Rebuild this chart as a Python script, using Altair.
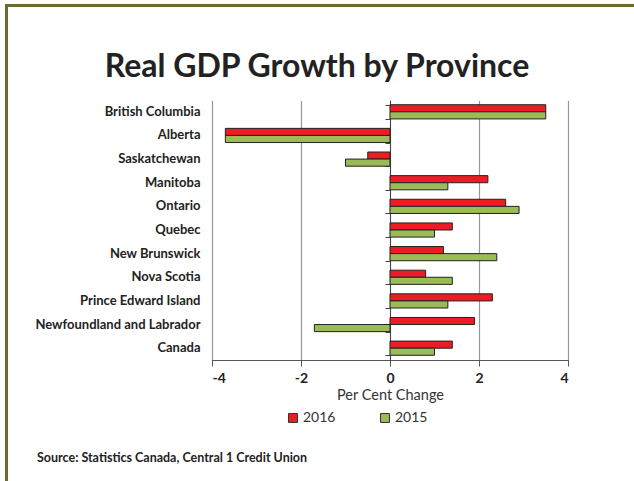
import altair as alt
import pandas as pd

provinces = ["British Columbia", "Alberta", "Saskatchewan", "Manitoba", "Ontario",
             "Quebec", "New Brunswick", "Nova Scotia", "Prince Edward Island",
             "Newfoundland and Labrador", "Canada"]
growth_2016 = [3.5, -3.7, -0.5, 2.2, 2.6, 1.4, 1.2, 0.8, 2.3, 1.9, 1.4]
growth_2015 = [3.5, -3.7, -1.0, 1.3, 2.9, 1.0, 2.4, 1.4, 1.3, -1.7, 1.0]
years = ["2016", "2015"]
x_ticks = [-4, -2, 0, 2, 4]

rows = []
for p, a, b in zip(provinces, growth_2016, growth_2015):
    rows.append({"province": p, "year": "2016", "value": a})
    rows.append({"province": p, "year": "2015", "value": b})
df = pd.DataFrame(rows)

FONT = "Lato"
W, H = 356, 260

yscale = alt.Scale(domain=provinces, paddingInner=0.4, paddingOuter=0.2)
xscale = alt.Scale(domain=[-4, 4], nice=False, zero=False)

bars = alt.Chart(df).mark_bar(stroke="#222222", strokeWidth=1).encode(
    y=alt.Y("province:N", scale=yscale, title=None,
            axis=alt.Axis(orient="left", labelFont=FONT, labelFontWeight="bold", labelFontSize=13,
                          labelColor="#222222", labelPadding=12, ticks=False,
                          domain=False, grid=False, labelLimit=300)),
    yOffset=alt.YOffset("year:N", sort=years, scale=alt.Scale(domain=years, paddingInner=0)),
    x=alt.X("value:Q", scale=xscale, title="Per Cent Change",
            axis=alt.Axis(values=x_ticks, labelExpr="'' + datum.value", labelFont=FONT,
                          labelFontWeight="bold", labelFontSize=14, labelColor="#222222",
                          labelPadding=5, tickSize=6, tickColor="#555555", domainColor="#555555",
                          grid=True, gridDash=[1, 1], gridColor="#333333", gridWidth=1.2,
                          titleFont=FONT, titleFontWeight="normal", titleFontSize=14.5,
                          titleColor="#333333", titlePadding=3)),
    color=alt.Color("year:N", sort=years,
                    scale=alt.Scale(domain=years, range=["#ED1C24", "#9BBB59"]),
                    legend=alt.Legend(title=None, orient="none", direction="horizontal",
                                      legendX=74, legendY=311, symbolType="square",
                                      symbolSize=80, symbolStrokeColor="#333333",
                                      symbolStrokeWidth=1, labelFont=FONT, labelFontSize=14,
                                      labelColor="#333333", columnPadding=42,
                                      labelOffset=3)),
)

zero_axis = alt.Chart(df).mark_bar(opacity=0).encode(
    y=alt.Y("province:N", scale=yscale, title=None,
            axis=alt.Axis(orient="left", offset=-W / 2, labels=False, ticks=True,
                          tickBand="extent", tickSize=5, tickColor="#444444", domain=True,
                          domainColor="#444444", domainWidth=1, grid=False)),
    x=alt.X("value:Q", scale=xscale),
)

title = alt.Chart(pd.DataFrame({"t": ["Real GDP Growth by Province"]})).mark_text(
    align="center", baseline="middle", font=FONT, fontWeight="bold", fontSize=32, color="#222222"
).encode(x=alt.value(105), y=alt.value(-33), text="t:N")

source = alt.Chart(pd.DataFrame({"t": ["Source:  Statistics Canada, Central 1 Credit Union"]})).mark_text(
    align="left", baseline="middle", font=FONT, fontWeight="bold", fontSize=12.5, color="#222222"
).encode(x=alt.value(-175), y=alt.value(358), text="t:N")

frame_top = alt.Chart(pd.DataFrame({"a": [0]})).mark_rule(color="#6B6B2E", strokeWidth=3, clip=False).encode(
    x=alt.value(-206), x2=alt.value(440), y=alt.value(-94.5))
frame_left = alt.Chart(pd.DataFrame({"a": [0]})).mark_rule(color="#6B6B2E", strokeWidth=3, clip=False).encode(
    x=alt.value(-205.5), y=alt.value(-96), y2=alt.value(390))

chart = alt.layer(bars, zero_axis, title, source, frame_top, frame_left).resolve_axis(y="independent").properties(
    width=W, height=H,
    autosize=alt.AutoSizeParams(type="none"),
    padding={"left": 212, "top": 100, "right": 66, "bottom": 121},
    background="white",
).configure_view(stroke=None)

chart.save("out.html", embed_options={"renderer": "svg", "actions": False})
